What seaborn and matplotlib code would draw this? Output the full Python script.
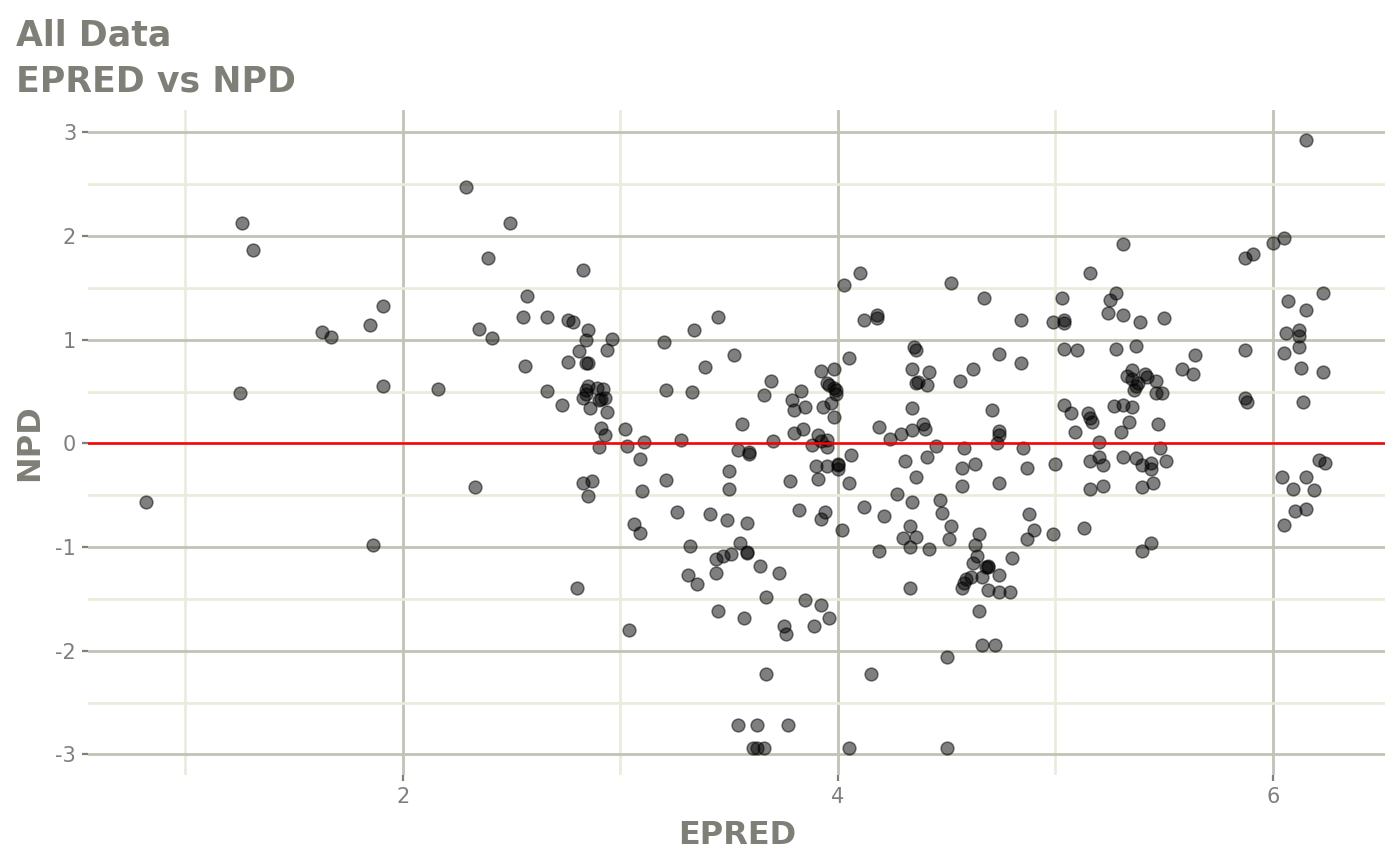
import matplotlib
matplotlib.use("Agg")
import matplotlib.pyplot as plt
import seaborn as sns
import pandas as pd

# EPRED / NPD pairs
epred = [
    0.82, 1.25, 1.26, 1.31, 1.63, 1.67, 1.85, 1.91, 1.91, 1.86,
    2.16, 2.29, 2.33, 2.35, 2.39, 2.41, 2.49, 2.55, 2.57, 2.56,
    2.66, 2.66, 2.73, 2.76, 2.78, 2.83, 2.85, 2.84, 2.96, 2.94,
    2.81, 2.76, 2.84, 2.85, 2.85, 2.84, 2.89, 2.92, 2.83, 2.84,
    2.90, 2.91, 2.93, 2.86, 2.94, 2.91, 2.93, 2.90, 3.02, 3.03,
    3.11, 3.28, 3.20, 3.34, 3.45, 3.21, 3.33, 3.39, 3.52, 3.69,
    3.66, 3.56, 3.70, 3.54, 3.59, 3.59, 3.09, 2.83, 2.87, 2.85,
    3.10, 3.21, 2.80, 3.04, 3.06, 3.09, 3.26, 3.32, 3.31, 3.35,
    3.41, 3.49, 3.58, 3.50, 3.50, 3.55, 3.58, 3.58, 3.44, 3.47,
    3.51, 3.44, 3.45, 3.57, 3.64, 3.73, 3.67, 3.75, 3.76, 3.67,
    3.54, 3.63, 3.77, 3.61, 3.63, 3.66,
    4.03, 4.05, 3.92, 3.98, 3.95, 3.96, 3.98, 3.99, 3.99, 3.83,
    3.79, 3.80, 3.85, 3.93, 3.97, 3.98, 3.84, 3.80, 3.91, 3.95,
    3.88, 3.92, 3.95, 3.90, 3.95, 4.00, 4.00, 4.00, 3.78, 3.91,
    4.05, 3.82, 3.94, 3.92, 4.02, 3.85, 3.92, 3.89, 3.96,
    4.06,
    4.10, 4.52, 4.67, 4.12, 4.18, 4.18, 4.84, 4.35, 4.36, 4.74,
    4.84, 4.34, 4.42, 4.62, 4.56, 4.36, 4.37, 4.41, 4.34, 4.71,
    4.19, 4.39, 4.40, 4.34, 4.29, 4.24, 4.74, 4.74, 4.73, 4.45,
    4.58, 4.85, 4.31, 4.41, 4.36, 4.57, 4.63, 4.57, 4.74, 4.87,
    4.27, 4.12, 4.21, 4.34, 4.47, 4.48, 4.33, 4.30, 4.36, 4.33,
    4.19, 4.42, 4.52, 4.51, 4.65, 4.63, 4.88, 4.90, 4.87, 4.64,
    4.62, 4.68, 4.69, 4.69, 4.80, 4.74, 4.66, 4.61, 4.59, 4.58,
    4.57, 4.69, 4.74, 4.79, 4.33, 4.65, 4.66, 4.72, 4.50, 4.15,
    4.05, 4.50,
    5.16, 5.03, 5.28, 5.25, 5.24, 5.31, 4.99, 5.04, 5.04, 5.04,
    5.10, 5.28, 5.04, 5.07, 5.15, 5.16, 5.17, 5.09, 5.20, 5.27,
    5.31, 5.34, 5.30, 5.00, 5.16, 5.20, 5.22, 5.31, 5.16, 5.22,
    5.13, 4.99, 5.31, 5.39, 5.50, 5.37, 5.64, 5.58, 5.63, 5.35,
    5.33, 5.35, 5.41, 5.42, 5.38, 5.37, 5.36, 5.46, 5.46, 5.49,
    5.35, 5.47, 5.48, 5.37, 5.40, 5.44, 5.44, 5.51, 5.40, 5.45,
    5.44, 5.40,
    6.15, 6.05, 6.00, 5.91, 5.87, 6.23, 6.07, 6.15, 6.06, 6.12,
    6.12, 6.12, 5.87, 6.05, 6.13, 6.23, 5.87, 5.88, 6.14, 6.21,
    6.24, 6.04, 6.15, 6.09, 6.19, 6.10, 6.15, 6.05,
]
npd = [
    -0.56, 0.49, 2.13, 1.87, 1.08, 1.03, 1.14, 1.33, 0.55, -0.98,
    0.53, 2.47, -0.42, 1.10, 1.79, 1.02, 2.13, 1.22, 1.42, 0.75,
    1.22, 0.51, 0.37, 1.19, 1.17, 1.67, 1.09, 1.00, 1.01, 0.90,
    0.89, 0.79, 0.78, 0.78, 0.55, 0.52, 0.54, 0.53, 0.44, 0.48,
    0.42, 0.43, 0.44, 0.34, 0.30, 0.15, 0.08, -0.03, 0.14, -0.02,
    0.01, 0.03, 0.98, 1.09, 1.22, 0.52, 0.50, 0.74, 0.85, 0.60,
    0.47, 0.19, 0.02, -0.06, -0.08, -0.10, -0.15, -0.38, -0.36, -0.51,
    -0.46, -0.35, -1.39, -1.80, -0.78, -0.86, -0.66, -0.99, -1.27, -1.36,
    -0.68, -0.74, -0.77, -0.27, -0.44, -0.96, -1.06, -1.05, -1.11, -1.09,
    -1.07, -1.25, -1.62, -1.68, -1.18, -1.25, -1.48, -1.76, -1.84, -2.22,
    -2.72, -2.72, -2.72, -2.94, -2.94, -2.94,
    1.53, 0.82, 0.70, 0.72, 0.58, 0.56, 0.54, 0.52, 0.48, 0.51,
    0.42, 0.32, 0.35, 0.35, 0.39, 0.26, 0.14, 0.10, 0.08, 0.03,
    -0.01, 0.02, -0.03, -0.22, -0.22, -0.20, -0.21, -0.25, -0.36, -0.34,
    -0.38, -0.64, -0.66, -0.73, -0.83, -1.51, -1.56, -1.76, -1.68,
    -0.11,
    1.64, 1.55, 1.40, 1.19, 1.24, 1.21, 1.19, 0.93, 0.90, 0.86,
    0.78, 0.72, 0.69, 0.72, 0.60, 0.58, 0.59, 0.56, 0.34, 0.32,
    0.16, 0.19, 0.14, 0.13, 0.09, 0.04, 0.12, 0.08, 0.00, -0.02,
    -0.04, -0.04, -0.17, -0.13, -0.32, -0.24, -0.20, -0.41, -0.38, -0.24,
    -0.49, -0.61, -0.70, -0.56, -0.55, -0.67, -0.80, -0.91, -0.90, -1.00,
    -1.04, -1.02, -0.80, -0.92, -0.87, -0.98, -0.68, -0.83, -0.92, -1.09,
    -1.15, -1.19, -1.18, -1.19, -1.10, -1.27, -1.29, -1.29, -1.31, -1.35,
    -1.39, -1.41, -1.43, -1.43, -1.39, -1.62, -1.94, -1.94, -2.06, -2.22,
    -2.94, -2.94,
    1.64, 1.40, 1.45, 1.38, 1.26, 1.24, 1.17, 1.19, 1.16, 0.91,
    0.90, 0.91, 0.37, 0.29, 0.29, 0.25, 0.21, 0.11, 0.01, 0.36,
    0.37, 0.21, 0.11, -0.20, -0.17, -0.13, -0.21, -0.13, -0.44, -0.41,
    -0.82, -0.87, 1.92, 1.17, 1.21, 0.94, 0.85, 0.72, 0.67, 0.71,
    0.65, 0.62, 0.67, 0.64, 0.58, 0.55, 0.52, 0.60, 0.49, 0.49,
    0.35, 0.19, -0.04, -0.14, -0.21, -0.19, -0.25, -0.17, -0.42, -0.38,
    -0.96, -1.04,
    2.93, 1.98, 1.93, 1.83, 1.79, 1.45, 1.37, 1.29, 1.07, 1.09,
    1.04, 0.93, 0.90, 0.87, 0.73, 0.69, 0.44, 0.40, 0.40, -0.16,
    -0.19, -0.32, -0.32, -0.44, -0.45, -0.65, -0.63, -0.79,
]

x_ticks = [2, 4, 6]
x_minor = [1, 3, 5]
y_ticks = [-3, -2, -1, 0, 1, 2, 3]
y_minor = [-2.5, -1.5, -0.5, 0.5, 1.5, 2.5]

df = pd.DataFrame({"EPRED": epred, "NPD": npd})

plt.rcParams["axes.unicode_minus"] = False

text_col = "#7f7f77"
major_col = "#c2c2b6"
minor_col = "#ebebdd"

fig = plt.figure(figsize=(14, 8.65), dpi=100)
ax = fig.add_axes([88 / 1400, 1 - 775 / 865, (1385 - 88) / 1400, (775 - 110) / 865])

sns.scatterplot(data=df, x="EPRED", y="NPD", ax=ax, color="black", alpha=0.5,
                s=85, edgecolor="black", linewidth=1.1, legend=False)
ax.axhline(0, color="red", lw=1.8, zorder=3)

ax.set_xlim(0.552, 6.515)
ax.set_ylim(-3.198, 3.217)
ax.set_xticks(x_ticks)
ax.set_xticks(x_minor, minor=True)
ax.set_yticks(y_ticks)
ax.set_yticks(y_minor, minor=True)

ax.set_axisbelow(True)
ax.grid(which="major", color=major_col, lw=2.0)
ax.grid(which="minor", color=minor_col, lw=2.0)
for sp in ax.spines.values():
    sp.set_visible(False)

ax.tick_params(which="major", length=4.5, width=1.6, color="#7f7f7f",
               labelcolor="#7f7f7f", labelsize=15, pad=4)
ax.tick_params(which="minor", length=0)
ax.set_xlabel("")
ax.set_ylabel("")

fig.text(16 / 1400, 1 - 45 / 865, "All Data", fontsize=25, fontweight="bold",
         color=text_col, ha="left", va="baseline")
fig.text(16 / 1400, 1 - 92 / 865, "EPRED vs NPD", fontsize=25, fontweight="bold",
         color=text_col, ha="left", va="baseline")
fig.text(737 / 1400, 1 - 836 / 865, "EPRED", fontsize=23, fontweight="bold",
         color=text_col, ha="center", va="center")
fig.text(30 / 1400, 1 - 443 / 865, "NPD", fontsize=23, fontweight="bold",
         color=text_col, ha="center", va="center", rotation=90)

fig.savefig("out.png", dpi=100, facecolor="white")
